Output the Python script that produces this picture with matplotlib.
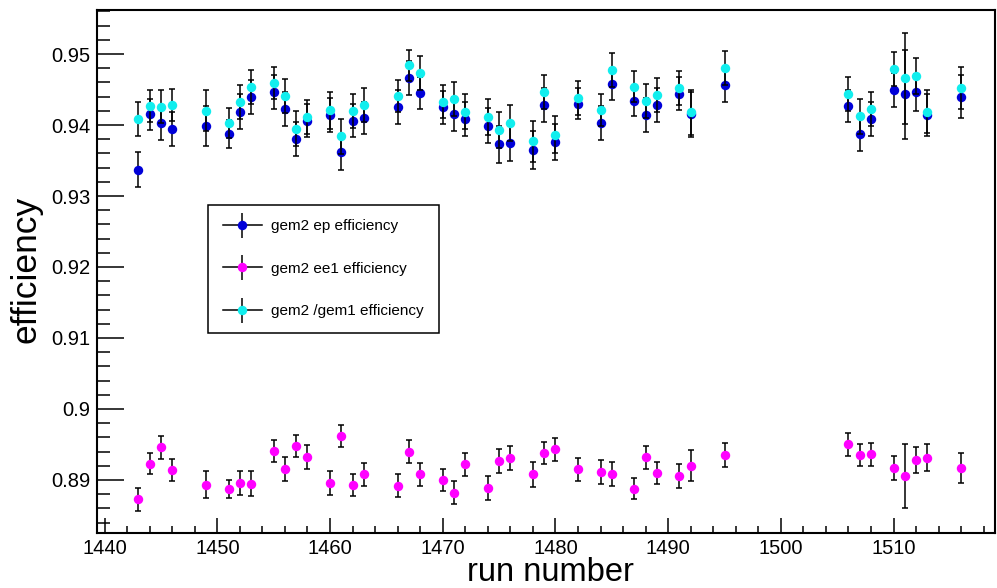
import numpy as np
import matplotlib
matplotlib.use('Agg')
import matplotlib.pyplot as plt
from matplotlib.lines import Line2D
from matplotlib.legend_handler import HandlerTuple
from matplotlib.ticker import MultipleLocator, FuncFormatter

plt.rcParams['font.family'] = ['Liberation Sans', 'DejaVu Sans']

runs = [1443, 1444, 1445, 1446, 1449, 1451, 1452, 1453, 1455, 1456, 1457, 1458,
        1460, 1461, 1462, 1463, 1466, 1467, 1468, 1470, 1471, 1472, 1474, 1475,
        1476, 1478, 1479, 1480, 1482, 1484, 1485, 1487, 1488, 1489, 1491, 1492,
        1495, 1506, 1507, 1508, 1510, 1511, 1512, 1513, 1516]

ep_eff = [0.9337, 0.9415, 0.9403, 0.9394, 0.9399, 0.9387, 0.9419, 0.9440, 0.9446, 0.9423,
          0.9380, 0.9406, 0.9414, 0.9362, 0.9406, 0.9410, 0.9426, 0.9466, 0.9445, 0.9425,
          0.9416, 0.9408, 0.9399, 0.9373, 0.9375, 0.9365, 0.9428, 0.9376, 0.9430, 0.9403,
          0.9458, 0.9434, 0.9414, 0.9428, 0.9444, 0.9415, 0.9457, 0.9427, 0.9388, 0.9409,
          0.9449, 0.9443, 0.9446, 0.9414, 0.9440]
ep_err = [0.0025, 0.0022, 0.0024, 0.0024, 0.0028, 0.0020, 0.0024, 0.0024, 0.0024, 0.0024,
          0.0024, 0.0023, 0.0024, 0.0025, 0.0023, 0.0023, 0.0024, 0.0024, 0.0022, 0.0023,
          0.0024, 0.0024, 0.0025, 0.0026, 0.0025, 0.0027, 0.0024, 0.0025, 0.0022, 0.0024,
          0.0023, 0.0021, 0.0024, 0.0024, 0.0023, 0.0032, 0.0024, 0.0023, 0.0024, 0.0024,
          0.0024, 0.0063, 0.0026, 0.0029, 0.0030]

ee1_eff = [0.8873, 0.8923, 0.8946, 0.8914, 0.8893, 0.8887, 0.8896, 0.8895, 0.8941, 0.8915,
           0.8948, 0.8932, 0.8896, 0.8962, 0.8893, 0.8908, 0.8892, 0.8940, 0.8908, 0.8900,
           0.8882, 0.8922, 0.8889, 0.8927, 0.8931, 0.8908, 0.8938, 0.8943, 0.8915, 0.8911,
           0.8909, 0.8888, 0.8932, 0.8910, 0.8906, 0.8920, 0.8935, 0.8950, 0.8935, 0.8936,
           0.8917, 0.8905, 0.8928, 0.8931, 0.8917]
ee1_err = [0.0016, 0.0015, 0.0016, 0.0016, 0.0019, 0.0013, 0.0017, 0.0017, 0.0016, 0.0017,
           0.0016, 0.0017, 0.0017, 0.0016, 0.0016, 0.0016, 0.0016, 0.0016, 0.0016, 0.0016,
           0.0016, 0.0016, 0.0017, 0.0017, 0.0017, 0.0018, 0.0016, 0.0016, 0.0016, 0.0017,
           0.0017, 0.0015, 0.0016, 0.0016, 0.0017, 0.0022, 0.0017, 0.0016, 0.0016, 0.0016,
           0.0017, 0.0045, 0.0018, 0.0019, 0.0021]

g1_eff = [0.9408, 0.9427, 0.9426, 0.9428, 0.9420, 0.9403, 0.9433, 0.9454, 0.9459, 0.9441,
          0.9395, 0.9411, 0.9421, 0.9384, 0.9420, 0.9428, 0.9441, 0.9484, 0.9473, 0.9433,
          0.9437, 0.9419, 0.9411, 0.9393, 0.9403, 0.9377, 0.9447, 0.9386, 0.9438, 0.9421,
          0.9477, 0.9454, 0.9434, 0.9442, 0.9452, 0.9418, 0.9480, 0.9444, 0.9412, 0.9423,
          0.9479, 0.9466, 0.9469, 0.9419, 0.9452]
g1_err = [0.0024, 0.0023, 0.0023, 0.0023, 0.0029, 0.0021, 0.0024, 0.0024, 0.0023, 0.0024,
          0.0025, 0.0024, 0.0026, 0.0025, 0.0024, 0.0024, 0.0023, 0.0022, 0.0024, 0.0023,
          0.0024, 0.0024, 0.0025, 0.0026, 0.0025, 0.0029, 0.0024, 0.0026, 0.0024, 0.0023,
          0.0024, 0.0022, 0.0024, 0.0024, 0.0024, 0.0032, 0.0024, 0.0024, 0.0024, 0.0024,
          0.0024, 0.0064, 0.0026, 0.0030, 0.0030]

labels = ['gem2 ep efficiency', 'gem2 ee1 efficiency', 'gem2 /gem1 efficiency']
colors = ['#0000d8', '#ff00ff', '#11eeee']

fig = plt.figure(figsize=(9.97, 5.88), dpi=100)
ax = fig.add_axes([97.3 / 997, 1 - 533.3 / 588, (995 - 97.3) / 997, (533.3 - 10) / 588])

series = [(ep_eff, ep_err), (ee1_eff, ee1_err), (g1_eff, g1_err)]
for i, (vals, errs) in enumerate(series):
    # bars first, markers on top so the bar does not cross the dot
    ax.errorbar(runs, vals, yerr=errs, fmt='none', ecolor='black', elinewidth=1.1,
                capsize=2.4, capthick=1.1, zorder=3 + 2 * i)
    ax.plot(runs, vals, 'o', color=colors[i], ms=6.8, mew=0, zorder=4 + 2 * i)

ax.set_xlim(1439.35, 1519.0)
ax.set_ylim(0.88249, 0.95620)

ax.xaxis.set_major_locator(MultipleLocator(10))
ax.xaxis.set_minor_locator(MultipleLocator(2))
ax.yaxis.set_major_locator(MultipleLocator(0.01))
ax.yaxis.set_minor_locator(MultipleLocator(0.002))
ax.yaxis.set_major_formatter(FuncFormatter(lambda v, p: ('%.2f' % v).rstrip('0').rstrip('.')))

ax.tick_params(axis='both', which='both', direction='in', top=False, right=False,
               labelsize=14.5, width=1.1)
ax.tick_params(axis='x', which='major', length=10.8, pad=4)
ax.tick_params(axis='x', which='minor', length=5.3)
ax.tick_params(axis='y', which='major', length=19.2, pad=5)
ax.tick_params(axis='y', which='minor', length=9.6)
for s in ax.spines.values():
    s.set_linewidth(1.5)

ax.set_xlabel('run number', fontsize=23.5)
ax.xaxis.set_label_coords(0.505, -(588 - 533.3) / 523.3)
ax.xaxis.label.set_va('bottom')
ax.set_ylabel('efficiency', fontsize=25.5)
ax.yaxis.set_label_coords(-0.079, 0.505)
ax.yaxis.label.set_va('center')

handles = []
for c in colors:
    hline = Line2D([], [], color='black', lw=1.1)
    vbar = Line2D([], [], ls='none', marker='|', ms=18, mew=1.1, color='black')
    dot = Line2D([], [], ls='none', marker='o', ms=6.8, mew=0, color=c)
    handles.append((hline, vbar, dot))

leg = ax.legend(handles, labels, handler_map={tuple: HandlerTuple(ndivide=1, pad=0)},
                loc='upper left', bbox_to_anchor=(0.1233, 0.6274), borderaxespad=0,
                fontsize=11, handlelength=2.6, handletextpad=0.6, labelspacing=1.85,
                borderpad=0.95, fancybox=False, framealpha=1, edgecolor='black')
leg.get_frame().set_linewidth(1.1)

fig.savefig('out.png', dpi=100)
